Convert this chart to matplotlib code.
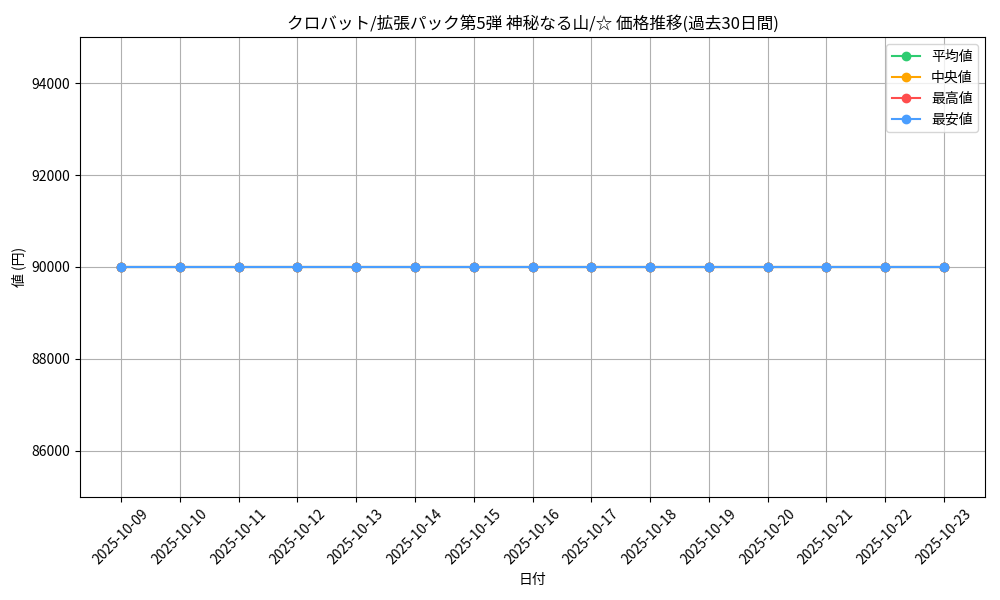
import matplotlib
matplotlib.use("Agg")
import matplotlib.pyplot as plt

plt.rcParams['font.family'] = ['Noto Sans CJK JP', 'DejaVu Sans']

# Data
dates = ["2025-10-09", "2025-10-10", "2025-10-11", "2025-10-12", "2025-10-13",
         "2025-10-14", "2025-10-15", "2025-10-16", "2025-10-17", "2025-10-18",
         "2025-10-19", "2025-10-20", "2025-10-21", "2025-10-22", "2025-10-23"]
avg_price = [90000] * 15
median_price = [90000] * 15
max_price = [90000] * 15
min_price = [90000] * 15

fig, ax = plt.subplots(figsize=(10, 6), dpi=100)

ax.plot(dates, avg_price, marker="o", color="#2ecc71", label="平均値")
ax.plot(dates, median_price, marker="o", color="#ffa500", label="中央値")
ax.plot(dates, max_price, marker="o", color="#ff4d4d", label="最高値")
ax.plot(dates, min_price, marker="o", color="#4a9eff", label="最安値")

ax.set_title("クロバット/拡張パック第5弾 神秘なる山/☆ 価格推移(過去30日間)", fontsize=12)
ax.set_xlabel("日付")
ax.set_ylabel("値 (円)")
ax.set_ylim(85000, 95000)
ax.set_yticks([86000, 88000, 90000, 92000, 94000])
ax.grid(True)
ax.legend(loc="upper right")
plt.xticks(rotation=45)

fig.subplots_adjust(left=0.08, right=0.985, top=0.938, bottom=0.172)
plt.savefig("out.png")
